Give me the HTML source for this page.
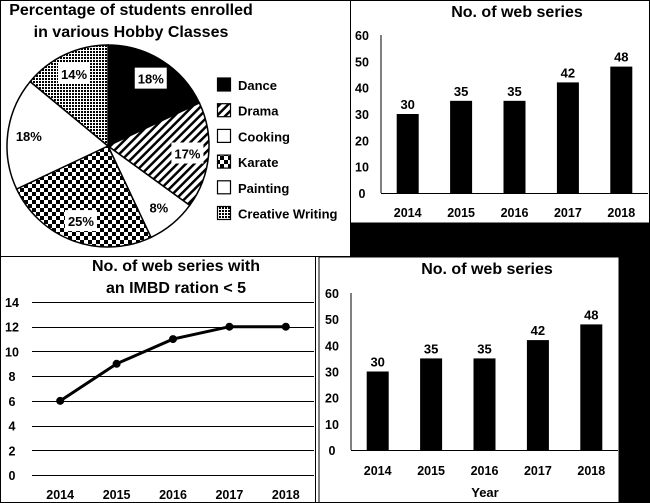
<!DOCTYPE html>
<html><head><meta charset="utf-8"><style>
html,body{margin:0;padding:0;background:#fff;}
svg{display:block;font-family:"Liberation Sans",Arial,sans-serif;font-weight:bold;}
</style></head><body>
<svg id="root" width="650" height="503" viewBox="0 0 650 503">
<defs>
<pattern id="pStripe" width="6" height="6" patternUnits="userSpaceOnUse" patternTransform="rotate(45)">
<rect width="6" height="6" fill="#fff"/><rect width="2.5" height="6" fill="#000"/></pattern>
<pattern id="pCheck" width="8" height="8" patternUnits="userSpaceOnUse">
<rect width="8" height="8" fill="#fff"/><rect width="4" height="4" fill="#000"/><rect x="4" y="4" width="4" height="4" fill="#000"/></pattern>
<pattern id="pDots" width="3" height="3" patternUnits="userSpaceOnUse">
<rect width="3" height="3" fill="#fff"/><rect width="2" height="2" fill="#000"/></pattern>
</defs>
<rect x="351" y="223" width="299" height="34" fill="#000"/>
<rect x="619" y="223" width="31" height="280" fill="#000"/>
<rect x="0.5" y="0.5" width="350" height="256" fill="none" stroke="#000"/>
<rect x="350.5" y="0.5" width="299" height="222.5" fill="none" stroke="#000"/>
<rect x="0.5" y="256.5" width="315" height="246" fill="none" stroke="#000"/>
<rect x="319" y="257" width="300" height="246" fill="#fff" stroke="#000"/>
<line x1="0" y1="502.5" x2="650" y2="502.5" stroke="#000"/>

<g id="pie">
<text x="131" y="15" font-size="16" text-anchor="middle">Percentage of students enrolled</text>
<text x="131" y="37" font-size="16" text-anchor="middle">in various Hobby Classes</text>
</g>
<g id="barTop"></g>
<g id="lineC"></g>
<g id="barBot"></g>
</svg>
<script>
const pieLabels=["Dance","Drama","Cooking","Karate","Painting","Creative Writing"];
const pieValues=[18,17,8,25,18,14];
const pieFills=["#000","url(#pStripe)","#fff","url(#pCheck)","#fff","url(#pDots)"];
const barYears=["2014","2015","2016","2017","2018"];
const barValues=[30,35,35,42,48];
const barTicks=[0,10,20,30,40,50,60];
const lineYears=["2014","2015","2016","2017","2018"];
const lineValues=[6,9,11,12,12];
const lineTicks=[0,2,4,6,8,10,12,14];

const NS="http://www.w3.org/2000/svg";
function mk(tag,attrs,parent,txt){const e=document.createElementNS(NS,tag);for(const k in attrs)e.setAttribute(k,attrs[k]);if(txt!==undefined)e.textContent=txt;parent.appendChild(e);return e;}

(function(){
const g=document.getElementById('pie');
const cx=108,cy=146,r=101;
const total=pieValues.reduce((a,b)=>a+b,0);
let a0=0;
pieValues.forEach((v,i)=>{
 const a1=a0+v/total*2*Math.PI;
 const x0=cx+r*Math.sin(a0),y0=cy-r*Math.cos(a0),x1=cx+r*Math.sin(a1),y1=cy-r*Math.cos(a1);
 const large=(a1-a0)>Math.PI?1:0;
 const p=mk('path',{d:`M${cx},${cy}L${x0},${y0}A${r},${r} 0 ${large} 1 ${x1},${y1}Z`,fill:pieFills[i],stroke:'#000','stroke-width':1.5},g);
 
 
 const am=(a0+a1)/2, lr=r*0.79;
 const lx=cx+lr*Math.sin(am), ly=cy-lr*Math.cos(am);
 const bg=mk('rect',{x:lx-16,y:ly-11,width:32,height:21,fill:'#fff'},g);
 
 
 const t=mk('text',{x:lx,y:ly+5,'font-size':13,'text-anchor':'middle'},g,v+'%');
 
 
 a0=a1;
});
pieLabels.forEach((l,i)=>{
 const y=78+i*25.7;
 const s=mk('rect',{x:217.5,y:y,width:13,height:13,fill:pieFills[i],stroke:'#000','stroke-width':1.2},g);
 
 
 const t=mk('text',{x:238,y:y+12,'font-size':13},g,l);
 
 
});
})();

function barChart(id,ox,oy,top,right,titleX,titleY,xlabY,yearLabel){
 const g=document.getElementById(id);
 const ys=v=>oy-(v/60)*(oy-top);
 const cw=(right-ox)/barYears.length;
 const tt=mk('text',{x:titleX,y:titleY,'font-size':16,'text-anchor':'middle'},g,'No. of web series');
 
 
 mk('line',{x1:ox,y1:top,x2:ox,y2:oy,stroke:'#000','stroke-width':1},g);
 mk('line',{x1:ox,y1:oy+0.5,x2:right,y2:oy+0.5,stroke:'#000','stroke-width':1},g);
 barTicks.forEach(t=>{
  const e=mk('text',{x:ox-19,y:ys(t)+5,'font-size':12.5,'text-anchor':'middle'},g,t);
  
  
 });
 barValues.forEach((v,i)=>{
  const cx=ox+cw*(i+0.5);
  const b=mk('rect',{x:cx-11,y:ys(v),width:22,height:oy-ys(v),fill:'#000'},g);
  
  
  const vl=mk('text',{x:cx,y:ys(v)-5,'font-size':13,'text-anchor':'middle'},g,v);
  
  
  const xl=mk('text',{x:cx,y:xlabY,'font-size':12.5,'text-anchor':'middle'},g,barYears[i]);
  
  
 });
 if(yearLabel){
  const yl=mk('text',{x:485,y:497,'font-size':13,'text-anchor':'middle'},g,'Year');
  
  
 }
}
barChart('barTop',381,193,35,648,517,17,217,false);
barChart('barBot',351,450,293,618,487,274,475,true);

(function(){
 const g=document.getElementById('lineC');
 const ox=32,oy=475,top=302,right=314;
 const ys=v=>oy-(v/14)*(oy-top);
 const cw=(right-ox)/lineYears.length;
 const t1=mk('text',{x:176,y:271,'font-size':16,'text-anchor':'middle'},g,'No. of web series with');
 
 
 const t2=mk('text',{x:176,y:293,'font-size':16,'text-anchor':'middle'},g,'an IMBD ration < 5');
 
 
 lineTicks.forEach(t=>{
  const l=mk('line',{x1:ox,y1:Math.round(ys(t))+0.5,x2:right,y2:Math.round(ys(t))+0.5,stroke:'#000','stroke-width':1},g);
  
  
  const e=mk('text',{x:12,y:ys(t)+5,'font-size':12.5,'text-anchor':'middle'},g,t);
  
  
 });
 const pts=lineValues.map((v,i)=>[ox+cw*(i+0.5),ys(v)]);
 const pl=mk('polyline',{points:pts.map(p=>p.join(',')).join(' '),fill:'none',stroke:'#000','stroke-width':3},g);
 
 
 pts.forEach((p,i)=>{
  const c=mk('circle',{cx:p[0],cy:p[1],r:4,fill:'#000'},g);
  
  
  const xl=mk('text',{x:p[0],y:499,'font-size':12.5,'text-anchor':'middle'},g,lineYears[i]);
  
  
 });
})();
</script>
</body></html>
